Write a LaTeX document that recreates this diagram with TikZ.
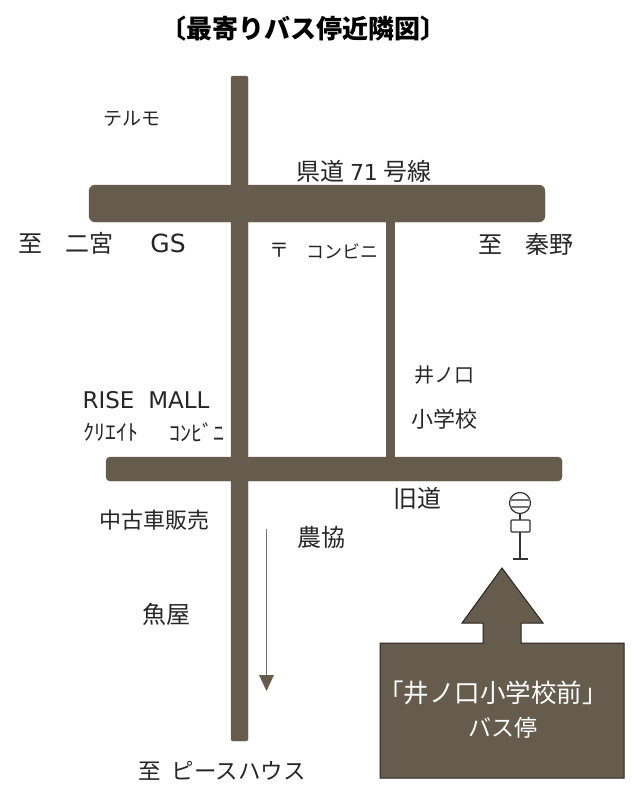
\documentclass[tikz,border=0pt]{standalone}
\usepackage{fontspec}
\setmainfont{Noto Sans CJK JP}
\newfontfamily\latinfont{DejaVu Sans}
\definecolor{roadbrown}{HTML}{655C4E}
\tikzset{
    road/.style={fill=roadbrown, draw=roadbrown, rounded corners=#1},
    road/.default=3pt,
    label24/.style={font=\fontsize{24}{28}\selectfont, inner sep=0pt, text=black!85},
    label22/.style={font=\fontsize{22}{26}\selectfont, inner sep=0pt, text=black!85},
    label18/.style={font=\fontsize{18}{22}\selectfont, inner sep=0pt, text=black!85},
    signline/.style={draw=black!80, line width=1.2pt},
}
\begin{document}
\begin{tikzpicture}[x=1pt, y=-1pt]
    \useasboundingbox (0,0) rectangle (634,785);

    % roads
    \fill[road=2pt] (231,76) rectangle (248,741);
    \fill[road=6pt] (89,185) rectangle (545,222);
    \fill[road=4pt] (106,457) rectangle (562,481);
    \fill[roadbrown] (386,222) rectangle (395,457);

    % direction of travel
    \coordinate (arrowtop) at (266,529);
    \coordinate (arrowend) at (266,676);
    \draw[black!55, line width=0.8pt] (arrowtop) -- (arrowend);
    \fill[roadbrown] (259,675) -- (274,675) -- (266.5,691) -- cycle;

    % bus stop sign
    \draw[signline] (520,503) circle (10.5);
    \draw[black!55, line width=1.2pt] (510,500) -- (530,500);
    \draw[black!55, line width=1.2pt] (510,507) -- (530,507);
    \draw[signline] (520,513.5) -- (520,520);
    \draw[signline, rounded corners=1pt] (511,520) rectangle (530,532);
    \draw[signline] (520,532) -- (520,559);
    \draw[signline] (513,559) -- (528,559);

    % big arrow with box
    \draw[road=0pt, line width=1pt, draw=black!60!roadbrown]
        (502,568) -- (543,623) -- (521,623) -- (521,643) -- (624,643) -- (624,778)
        -- (380,778) -- (380,643) -- (483,643) -- (483,623) -- (462,623) -- cycle;
    \node[font=\fontsize{25.5}{30}\selectfont, text=white, inner sep=0pt] (stopname) at (493,693) {「井ノ口小学校前」};
    \node[font=\fontsize{23}{27}\selectfont, text=white, inner sep=0pt] (stopword) at (503,728) {バス停};

    % labels
    \node[font=\bfseries\fontsize{26}{30}\selectfont, inner sep=0pt] (title) at (303,29) {〔最寄りバス停近隣図〕};
    \node[label18, font=\fontsize{19}{23}\selectfont] (terumo) at (132,119) {テルモ};
    \node[label24] (route) at (364,171) {県道 {\latinfont\fontsize{22}{26}\selectfont 71} 号線};
    \node[label24] (ninomiya) at (66,243) {至\hspace{0.95em}二宮};
    \node[label24, font=\latinfont\fontsize{25}{30}\selectfont] (gs) at (168,243) {GS};
    \node[label18, font=\fontsize{20}{24}\selectfont] (postmark) at (279,250) {〒};
    \node[label18] (conv) at (342,251) {コンビニ};
    \node[label24] (hadano) at (526,244) {至\hspace{0.95em}秦野};
    \node[label22, font=\fontsize{20}{24}\selectfont] (school1) at (444,375) {井ノ口};
    \node[label22] (school2) at (444,419) {小学校};
    \node[label22, font=\latinfont\fontsize{23}{28}\selectfont] (mall) at (146,400) {RISE\hspace{0.6em}MALL};
    \node[label22] (create) at (111,432) {ｸﾘｴｲﾄ};
    \node[label22] (conv2) at (197,432) {ｺﾝﾋﾞﾆ};
    \node[label24] (oldroad) at (417,498) {旧道};
    \node[label22] (usedcar) at (154,520) {中古車販売};
    \node[label24] (ja) at (321,537) {農協};
    \node[label24] (fish) at (166,614) {魚屋};
    \node[label24, font=\fontsize{22.5}{27}\selectfont] (peace) at (222,771) {至\hspace{0.5em}ピースハウス};
\end{tikzpicture}
\end{document}
